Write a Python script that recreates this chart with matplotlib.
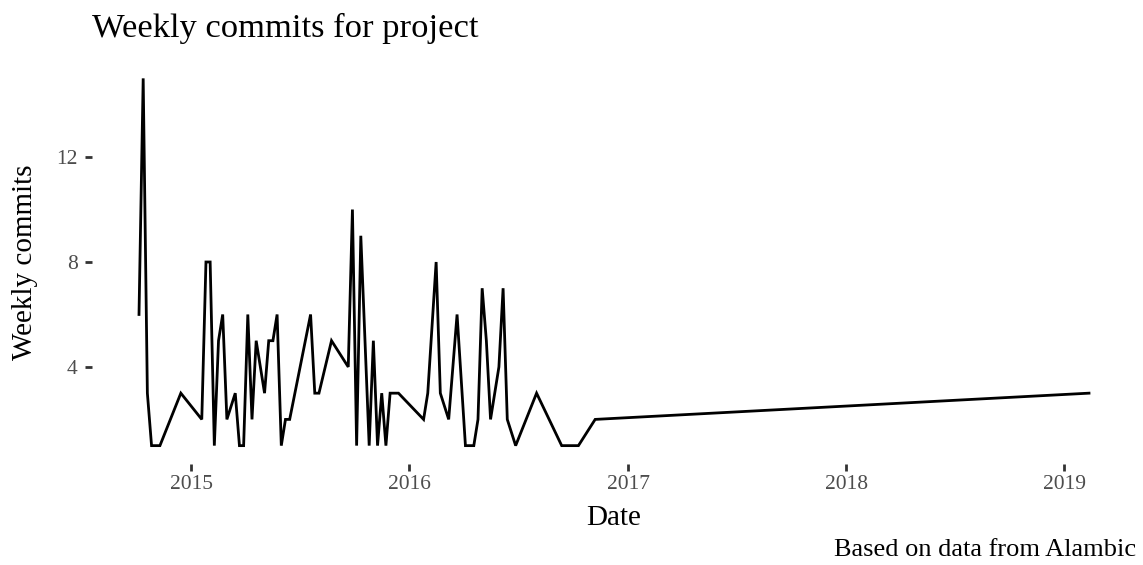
import matplotlib as mpl
mpl.use('Agg')
import matplotlib.pyplot as plt
import matplotlib.dates as mdates
import pandas as pd

## Data

weeks = ['2014-10-06', '2014-10-13', '2014-10-20', '2014-10-27', '2014-11-10',
         '2014-12-15', '2015-01-19', '2015-01-26', '2015-02-02', '2015-02-09',
         '2015-02-16', '2015-02-23', '2015-03-02', '2015-03-16', '2015-03-23',
         '2015-03-30', '2015-04-06', '2015-04-13', '2015-04-20', '2015-05-04',
         '2015-05-11', '2015-05-18', '2015-05-25', '2015-06-01', '2015-06-08',
         '2015-06-15', '2015-07-20', '2015-07-27', '2015-08-03', '2015-08-24',
         '2015-09-21', '2015-09-28', '2015-10-05', '2015-10-12', '2015-10-26',
         '2015-11-02', '2015-11-09', '2015-11-16', '2015-11-23', '2015-11-30',
         '2015-12-14', '2016-01-25', '2016-02-01', '2016-02-15', '2016-02-22',
         '2016-03-07', '2016-03-21', '2016-04-04', '2016-04-18', '2016-04-25',
         '2016-05-02', '2016-05-09', '2016-05-16', '2016-05-30', '2016-06-06',
         '2016-06-13', '2016-06-27', '2016-08-01', '2016-09-12', '2016-10-10',
         '2016-11-07', '2019-02-11']
commits = [6, 15, 3, 1, 1,
           3, 2, 8, 8, 1,
           5, 6, 2, 3, 1,
           1, 6, 2, 5, 3,
           5, 5, 6, 1, 2,
           2, 6, 3, 3, 5,
           4, 10, 1, 9, 1,
           5, 1, 3, 1, 3,
           3, 2, 3, 8, 3,
           2, 6, 1, 1, 2,
           7, 5, 2, 4, 7,
           2, 1, 3, 1, 1,
           2, 3]
y_ticks = [4, 8, 12]

title = 'Weekly commits for project'
xlab = 'Date'
ylab = 'Weekly commits'
caption = 'Based on data from Alambic'

## Plot

plt.rcParams['font.family'] = ['Liberation Serif', 'DejaVu Serif']

dates = pd.to_datetime(weeks)

fig = plt.figure(figsize=(11.43, 5.65), dpi=100)
ax = fig.add_axes([91.5 / 1143, 1 - 464 / 565, 1045 / 1143, 404 / 565])
ax.plot(dates, commits, color='black', lw=2, solid_joinstyle='miter')

for s in ax.spines.values():
    s.set_visible(False)
ax.xaxis.set_major_locator(mdates.YearLocator())
ax.xaxis.set_major_formatter(mdates.DateFormatter('%Y'))
ax.set_yticks(y_ticks)
ax.tick_params(axis='both', direction='out', length=5, width=2,
               color='#333333', labelcolor='#4d4d4d', labelsize=15.5)
ax.tick_params(axis='x', pad=3)
ax.tick_params(axis='y', pad=5)

ax.set_xlabel(xlab, fontsize=21, labelpad=8)
ax.set_ylabel(ylab, fontsize=21, labelpad=13)

fig.text(92 / 1143, 1 - 37 / 565, title, fontsize=24.8, va='baseline', ha='left')
fig.text(1136 / 1143, 1 - 556 / 565, caption, fontsize=19, va='baseline', ha='right')

plt.savefig('out.png', dpi=100)
